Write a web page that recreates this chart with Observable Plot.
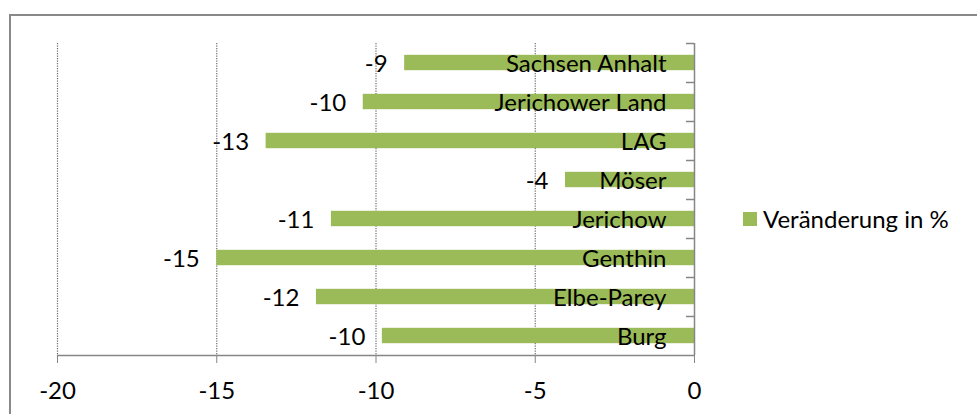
<!DOCTYPE html>
<html><head><meta charset="utf-8">
<script src="https://cdn.jsdelivr.net/npm/d3@7"></script>
<script src="https://cdn.jsdelivr.net/npm/@observablehq/plot@0.6"></script>
<style>
body{margin:0;overflow:hidden;background:#fff;font-family:Lato,"Open Sans",sans-serif;}
#wrap{position:relative;width:977px;height:414px;overflow:hidden;background:#fff}
#chart{position:absolute;left:0;top:0}
#border{position:absolute;left:9px;top:14px;width:1200px;height:800px;border:2px solid #898989;box-sizing:border-box;pointer-events:none}
#legend{position:absolute;left:743px;top:204px;font-size:24px;line-height:30px;display:flex;align-items:center;color:#000;white-space:nowrap}
#legend .sw{display:inline-block;width:14px;height:14px;background:#9BBB59;margin-right:6px}
</style></head>
<body>
<div id="wrap"><div id="chart"></div><div id="border"></div><div id="legend"><span class="sw"></span><span id="legtext"></span></div></div>
<script>
const categories = ["Sachsen Anhalt","Jerichower Land","LAG","Möser","Jerichow","Genthin","Elbe-Parey","Burg"];
const values = [-9.1, -10.4, -13.45, -4.05, -11.4, -15.0, -11.87, -9.8];
const valueLabels = ["-9","-10","-13","-4","-11","-15","-12","-10"];
const xTicks = [-20,-15,-10,-5,0];
const gridTicks = [-20,-15,-10,-5];
const seriesName = "Veränderung in %";

const data = categories.map((c,i)=>({category:c, value:values[i], label:valueLabels[i]}));
const W = 977, H = 414, mT = 43, mB = 59;
const step = (H - mT - mB) / categories.length;
const green = "#9BBB59", axisGray = "#868686";
const fs = 24;

const chart = Plot.plot({
  width: W, height: H,
  marginTop: mT, marginBottom: mB, marginLeft: 57, marginRight: 283,
  style: {background: "transparent", fontFamily: "Lato, 'Open Sans', sans-serif", fontSize: fs + "px", color: "#000"},
  x: {domain: [-20, 0], axis: null},
  y: {domain: categories, padding: 0, axis: null},
  marks: [
    Plot.gridX(gridTicks, {stroke: "#6e6e6e", strokeOpacity: 1, strokeWidth: 1.2, strokeDasharray: "1.2,1.3"}),
    Plot.barX(data, {x: "value", y: "category", fill: green, insetTop: 11.8, insetBottom: 11.8}),
    Plot.ruleX([0], {stroke: axisGray, strokeWidth: 1.5}),
    Plot.ruleY(categories, {y: d => d, x1: 0, x2: 0, insetLeft: -8, dy: -step/2, stroke: axisGray, strokeWidth: 1.5}),
    Plot.ruleY([categories[categories.length-1]], {y: d => d, x1: -20, x2: 0, dy: step/2, stroke: axisGray, strokeWidth: 1.5}),
    Plot.axisX(xTicks, {tickSize: 8, tickPadding: 18, tickFormat: d => String(d), label: null, stroke: axisGray, fill: "#000", fontSize: fs}),
    Plot.text(data, {x: "value", y: "category", text: "label", textAnchor: "end", dx: -17, dy: 1, fontSize: fs, fill: "#000"}),
    Plot.text(data, {y: "category", text: "category", frameAnchor: "right", textAnchor: "end", dx: -28, dy: 1, fontSize: fs, fill: "#000"})
  ]
});
document.getElementById("chart").appendChild(chart);
document.getElementById("legtext").textContent = seriesName;
</script>
</body></html>
